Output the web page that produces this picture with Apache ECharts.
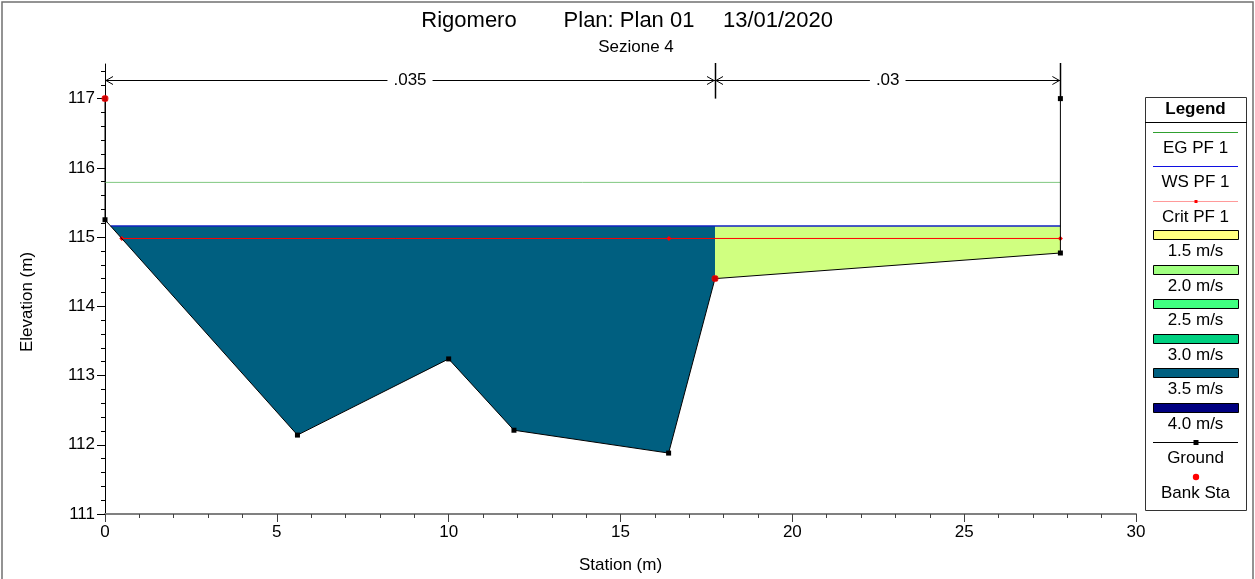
<!DOCTYPE html>
<html><head><meta charset="utf-8">
<script src="https://cdn.jsdelivr.net/npm/echarts@6/dist/echarts.min.js"></script>
<style>html,body{margin:0;padding:0;background:#fff}#c{width:1255px;height:579px}</style>
</head><body><div id="c"></div>
<script>
// ---------- data ----------
const titleParts = ['Rigomero', 'Plan: Plan 01', '13/01/2020'];
const subtitle = 'Sezione 4';
const xAxisName = 'Station (m)';
const yAxisName = 'Elevation (m)';
const groundSta  = [0, 0, 5.6, 10.0, 11.9, 16.4, 17.75, 27.8, 27.8];
const groundElev = [117.0, 115.25, 112.14, 113.24, 112.21, 111.88, 114.4, 114.77, 117.0];
const bankSta  = [0, 17.75];
const bankElev = [117.0, 114.4];
const wsElev = 115.16;
const egElev = 115.79;
const critElev = 114.98;
const critSta = [0.49, 16.41, 27.8];
const egSta = [0, 27.8];
const nStations = [0, 17.75, 27.8];
const nValues = ['.035', '.03'];
const subFillColors = ['#005f80', '#d0ff80'];
const lineLegendLabels = ['EG PF 1', 'WS PF 1', 'Crit PF 1'];
const speedLabels = ['1.5 m/s', '2.0 m/s', '2.5 m/s', '3.0 m/s', '3.5 m/s', '4.0 m/s'];
const speedColors = ['#ffff80', '#a0ff80', '#40ff80', '#00d080', '#006080', '#000080'];
const pointLegendLabels = ['Ground', 'Bank Sta'];
const xMin = 0, xMax = 30, xStep = 5;
const yMin = 111, yMax = 117.5;
const yMajorTicks = [111, 112, 113, 114, 115, 116, 117];

// ---------- helpers ----------
const FONT = 'Liberation Sans, Arial, sans-serif';
const ground = groundSta.map((s, i) => [s, groundElev[i]]);
const yMinorTicks = [];
for (let k = 0; k < yMajorTicks.length; k++) {
  for (let j = 1; j < 5; j++) {
    const v = +(yMajorTicks[k] + j * 0.2).toFixed(2);
    if (v < yMax) yMinorTicks.push(v);
  }
}
function crossX(p, q, y) { return p[0] + (y - p[1]) / (q[1] - p[1]) * (q[0] - p[0]); }
function waterPolygon(a, b) {
  const pts = ground.filter(p => p[0] >= a && p[0] <= b);
  const poly = [];
  for (let i = 0; i < pts.length; i++) {
    const p = pts[i], q = pts[i + 1];
    if (p[1] <= wsElev) poly.push(p);
    if (q && (p[1] - wsElev) * (q[1] - wsElev) < 0) poly.push([crossX(p, q, wsElev), wsElev]);
  }
  if (pts[0][1] <= wsElev) poly.unshift([a, wsElev]);
  if (pts[pts.length - 1][1] <= wsElev) poly.push([b, wsElev]);
  return poly;
}
const wsStart = waterPolygon(nStations[0], nStations[1])[0][0];
const wsEnd = nStations[nStations.length - 1];

const chart = echarts.init(document.getElementById('c'), null, { renderer: 'canvas' });

// ---------- graphic (titles, legend, frame) ----------
const graphic = [];
graphic.push({ type: 'rect', silent: true, z: -10, shape: { x: 2, y: 2, width: 1251, height: 600 },
  style: { fill: 'none', stroke: '#707070', lineWidth: 1.5 } });
const titleCenters = [469, 629, 778];
titleParts.forEach((t, i) => graphic.push({ type: 'text', x: titleCenters[i], y: 21,
  style: { text: t, font: '22px ' + FONT, fill: '#000', align: 'center', verticalAlign: 'middle' } }));
graphic.push({ type: 'text', x: 636, y: 47,
  style: { text: subtitle, font: '17px ' + FONT, fill: '#000', align: 'center', verticalAlign: 'middle' } });
graphic.push({ type: 'text', x: 27, y: 302, rotation: Math.PI / 2,
  style: { text: yAxisName, font: '17px ' + FONT, fill: '#000', align: 'center', verticalAlign: 'middle' } });

// legend
const LX = 1145, LY = 97, LW = 101, LH = 413, cx = LX + LW / 2;
const lx1 = 1153, lx2 = 1238;
graphic.push({ type: 'rect', shape: { x: LX + 0.5, y: LY + 0.5, width: LW, height: LH },
  style: { fill: '#fff', stroke: '#333', lineWidth: 1 } });
graphic.push({ type: 'text', x: cx, y: 109,
  style: { text: 'Legend', font: 'bold 17px ' + FONT, fill: '#000', align: 'center', verticalAlign: 'middle' } });
graphic.push({ type: 'line', shape: { x1: LX, y1: 122.5, x2: LX + LW + 1, y2: 122.5 }, style: { stroke: '#000', lineWidth: 1 } });
const legendItems = [];
lineLegendLabels.forEach((l, i) => legendItems.push({ kind: 'line' + i, label: l }));
speedLabels.forEach((l, i) => legendItems.push({ kind: 'rect', color: speedColors[i], label: l }));
legendItems.push({ kind: 'ground', label: pointLegendLabels[0] });
legendItems.push({ kind: 'bank', label: pointLegendLabels[1] });
legendItems.forEach((it, i) => {
  const sy = Math.floor(132 + 34.5 * i);
  const ly = sy + 0.5;
  if (it.kind === 'line0') {
    graphic.push({ type: 'line', shape: { x1: lx1, y1: ly, x2: lx2, y2: ly }, style: { stroke: '#30a030', lineWidth: 1 } });
  } else if (it.kind === 'line1') {
    graphic.push({ type: 'line', shape: { x1: lx1, y1: ly, x2: lx2, y2: ly }, style: { stroke: '#1010e0', lineWidth: 1 } });
  } else if (it.kind === 'line2') {
    graphic.push({ type: 'line', shape: { x1: lx1, y1: ly, x2: lx2, y2: ly }, style: { stroke: '#ff9a9a', lineWidth: 1 } });
    graphic.push({ type: 'rect', shape: { x: cx - 1, y: sy - 1, width: 3, height: 3 }, style: { fill: '#ff0000' } });
  } else if (it.kind === 'rect') {
    graphic.push({ type: 'rect', shape: { x: lx1 + 0.5, y: sy - 4.5, width: lx2 - lx1, height: 9 }, style: { fill: it.color, stroke: '#000', lineWidth: 1 } });
  } else if (it.kind === 'ground') {
    graphic.push({ type: 'line', shape: { x1: lx1, y1: ly, x2: lx2, y2: ly }, style: { stroke: '#000', lineWidth: 1 } });
    graphic.push({ type: 'rect', shape: { x: cx - 2, y: sy - 2, width: 5, height: 5 }, style: { fill: '#000' } });
  } else if (it.kind === 'bank') {
    graphic.push({ type: 'circle', shape: { cx: cx + 0.5, cy: sy, r: 3.2 }, style: { fill: '#ff0000' } });
  }
  graphic.push({ type: 'text', x: cx, y: sy + 16.5,
    style: { text: it.label, font: '17px ' + FONT, fill: '#000', align: 'center', verticalAlign: 'middle' } });
});

// ---------- series ----------
const series = [];
// velocity fills per subsection
series.push({
  type: 'custom', silent: true, z: 1,
  data: nValues.map((v, i) => [nStations[i], nStations[i + 1]]),
  renderItem: (params, api) => {
    const i = params.dataIndex;
    const pts = waterPolygon(nStations[i], nStations[i + 1]).map(p => api.coord(p));
    return { type: 'polygon', shape: { points: pts }, style: { fill: subFillColors[i], stroke: null } };
  }
});
// n-value annotations
const nLineElev = 117.27, barBottomElev = 117.0;
series.push({
  type: 'custom', silent: true, clip: false, z: 5,
  data: nValues.map((v, i) => [nStations[i], nStations[i + 1]]),
  renderItem: (params, api) => {
    const i = params.dataIndex;
    const p1 = api.coord([nStations[i], nLineElev]);
    const p2 = api.coord([nStations[i + 1], nLineElev]);
    const top = api.coord([nStations[i + 1], yMax]);
    const bot = api.coord([nStations[i + 1], barBottomElev]);
    const y = Math.round(p1[1]) + 0.5;
    const ls = { stroke: '#000', lineWidth: 1 };
    const children = [
      { type: 'line', shape: { x1: p1[0], y1: y, x2: p2[0], y2: y }, style: ls },
      { type: 'polyline', shape: { points: [[p1[0] + 8, y - 4], [p1[0] + 1, y], [p1[0] + 8, y + 4]] }, style: { stroke: '#000', fill: null, lineWidth: 1 } },
      { type: 'polyline', shape: { points: [[p2[0] - 8, y - 4], [p2[0] - 1, y], [p2[0] - 8, y + 4]] }, style: { stroke: '#000', fill: null, lineWidth: 1 } },
      { type: 'line', shape: { x1: Math.round(top[0]) + 0.5, y1: top[1] - 1, x2: Math.round(top[0]) + 0.5, y2: bot[1] }, style: { stroke: '#000', lineWidth: 1.5 } },
      { type: 'text', x: (p1[0] + p2[0]) / 2, y: y,
        style: { text: nValues[i], font: '17px ' + FONT, fill: '#000', align: 'center', verticalAlign: 'middle',
          backgroundColor: '#fff', padding: [0, 6] } }
    ];
    return { type: 'group', children };
  }
});
// EG
series.push({ type: 'line', name: lineLegendLabels[0], z: 3, silent: true, symbol: 'none',
  data: egSta.map(s => [s, egElev]), lineStyle: { color: '#80c880', width: 1 } });
// WS
series.push({ type: 'line', name: lineLegendLabels[1], z: 3, silent: true, symbol: 'none',
  data: [[wsStart, wsElev], [wsEnd, wsElev]], lineStyle: { color: '#1020c0', width: 1.5 } });
// Crit
series.push({ type: 'line', name: lineLegendLabels[2], z: 4, silent: true, symbol: 'diamond', symbolSize: 5,
  itemStyle: { color: '#ff0000' }, data: critSta.map(s => [s, critElev]), lineStyle: { color: '#ff0000', width: 1 } });
// Ground
series.push({ type: 'line', name: pointLegendLabels[0], z: 6, silent: true, symbol: 'rect', symbolSize: 5, showAllSymbol: true,
  itemStyle: { color: '#000' }, data: ground, lineStyle: { color: '#000', width: 1 } });
// Bank stations
series.push({ type: 'scatter', name: pointLegendLabels[1], z: 7, silent: true, symbol: 'circle', symbolSize: 7,
  itemStyle: { color: '#ff0000' }, data: bankSta.map((s, i) => [s, bankElev[i]]) });

const tickColor = '#404040';
const option = {
  animation: false,
  textStyle: { fontFamily: FONT },
  grid: { left: 105, right: 119, top: 64, bottom: 65, containLabel: false },
  xAxis: {
    type: 'value', min: xMin, max: xMax, interval: xStep,
    name: xAxisName, nameLocation: 'middle', nameGap: 43,
    nameTextStyle: { fontSize: 17, color: '#000', fontFamily: FONT },
    axisLine: { show: true, lineStyle: { color: '#808080', width: 2 } },
    axisTick: { show: true, length: 8, lineStyle: { color: tickColor } },
    minorTick: { show: true, splitNumber: 5, length: 4, lineStyle: { color: tickColor } },
    splitLine: { show: false }, minorSplitLine: { show: false },
    axisLabel: { color: '#000', fontSize: 17, fontFamily: FONT, margin: 10 }
  },
  yAxis: [{
    type: 'value', min: yMin, max: yMax, interval: 1, position: 'left',
    axisLine: { show: true, onZero: false, lineStyle: { color: '#000', width: 1 } },
    axisTick: { show: true, length: 8, customValues: yMajorTicks, lineStyle: { color: '#000' } },
    axisLabel: { color: '#000', fontSize: 17, fontFamily: FONT, margin: 10, customValues: yMajorTicks },
    splitLine: { show: false }
  }, {
    type: 'value', min: yMin, max: yMax, position: 'left', offset: 0,
    axisLine: { show: false },
    axisTick: { show: true, length: 4, customValues: yMinorTicks, lineStyle: { color: '#000' } },
    axisLabel: { show: false },
    splitLine: { show: false }
  }],
  graphic,
  series
};
chart.setOption(option);
</script>
</body></html>
